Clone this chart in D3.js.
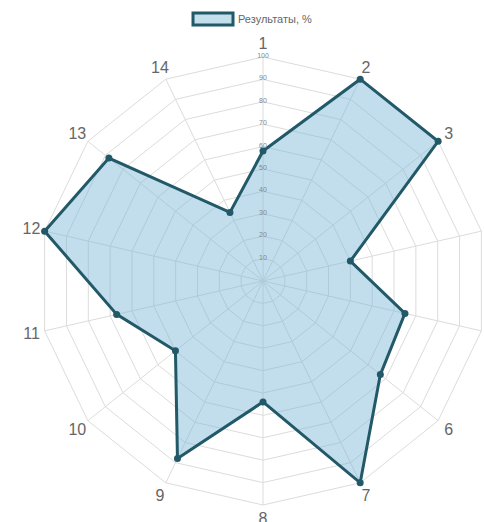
<!DOCTYPE html>
<html><head><meta charset="utf-8">
<script src="https://cdnjs.cloudflare.com/ajax/libs/d3/7.8.5/d3.min.js"></script>
<style>body{margin:0;background:#fff;}svg{display:block;font-family:"Liberation Sans",Arial,sans-serif;}</style>
</head><body>
<svg id="c" width="484" height="522"></svg>
<script>
const categories = ["1","2","3","4","5","6","7","8","9","10","11","12","13","14"];
const values = [58,100,100,40,65,67,100,54,88,50,67,100,88,34];
const ticks = [10,20,30,40,50,60,70,80,90,100];
const seriesName = "Результаты, %";

const W = 484, H = 522, cx = 263, cy = 281, R = 224;
const svg = d3.select("#c");
const n = categories.length;
const rScale = d3.scaleLinear().domain([0,100]).range([0,R]);
const angle = d3.scaleLinear().domain([0,n]).range([0,2*Math.PI]);
const pt = (i, v) => { const a = angle(i); return [cx + Math.sin(a)*rScale(v), cy - Math.cos(a)*rScale(v)]; };

const g = svg.append("g");
// grid polygons
ticks.forEach(t => {
  g.append("polygon")
    .attr("points", d3.range(n).map(i => pt(i,t).join(",")).join(" "))
    .attr("fill","none").attr("stroke","#dcdcdc").attr("stroke-width",1);
});
// spokes
d3.range(n).forEach(i => {
  const p = pt(i,100);
  g.append("line").attr("x1",cx).attr("y1",cy).attr("x2",p[0]).attr("y2",p[1])
    .attr("stroke","#dcdcdc").attr("stroke-width",1);
});
// data polygon
const line = d3.line().curve(d3.curveLinearClosed);
g.append("path")
  .attr("d", line(values.map((v,i)=>pt(i,v))))
  .attr("fill","rgba(120,180,210,0.45)")
  .attr("stroke","#215968").attr("stroke-width",3).attr("stroke-linejoin","miter");
// tick labels
g.selectAll("text.tick").data(ticks).enter().append("text")
  .attr("x",cx).attr("y",d=>cy-rScale(d)).attr("dy","0.15em")
  .attr("text-anchor","middle").attr("font-size",7).attr("fill","#888")
  .text(d=>d);
// points
g.selectAll("circle.pt").data(values).enter().append("circle")
  .attr("cx",(v,i)=>pt(i,v)[0]).attr("cy",(v,i)=>pt(i,v)[1])
  .attr("r",3.5).attr("fill","#215968");
// axis labels
g.selectAll("text.lab").data(categories).enter().append("text")
  .attr("x",(d,i)=>pt(i,106)[0]).attr("y",(d,i)=>pt(i,106)[1]).attr("dy","0.35em")
  .attr("text-anchor","middle").attr("font-size",16).attr("fill","#666")
  .text(d=>d);
// legend
svg.append("rect").attr("x",193).attr("y",13).attr("width",40).attr("height",12)
  .attr("fill","#c3dfeb").attr("stroke","#215968").attr("stroke-width",3);
svg.append("text").attr("x",238).attr("y",19).attr("dy","0.35em")
  .attr("font-size",11).attr("fill","#666").text(seriesName);
</script>
</body></html>
